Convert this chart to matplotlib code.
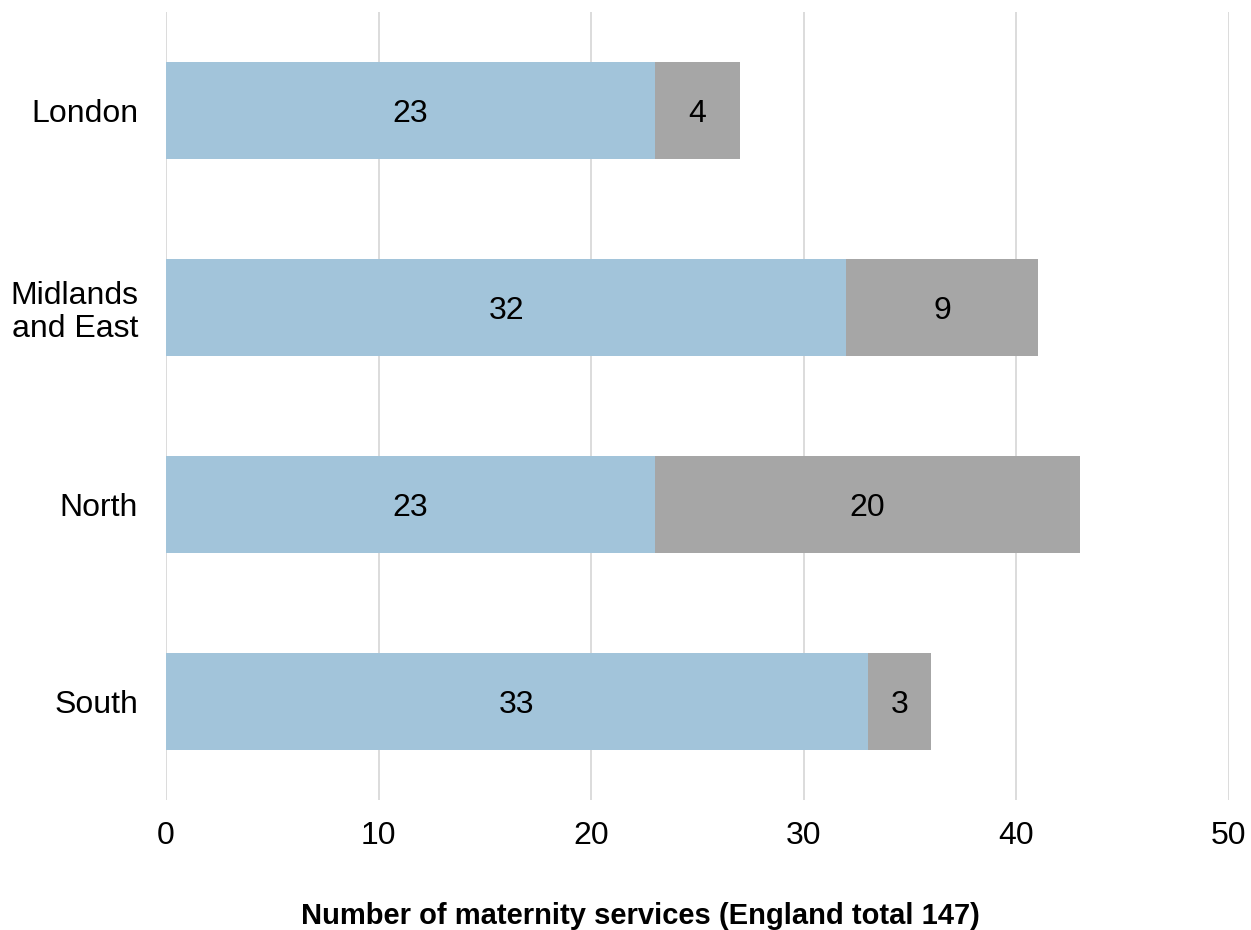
import matplotlib.pyplot as plt

plt.rcParams['font.family'] = ['Liberation Sans', 'DejaVu Sans']

regions = ["London", "Midlands\nand East", "North", "South"]
first_values = [23, 32, 23, 33]
second_values = [4, 9, 20, 3]
x_ticks = [0, 10, 20, 30, 40, 50]

blue = "#A2C4DA"
grey = "#A6A6A6"

fig = plt.figure(figsize=(12.51, 9.30), dpi=100)
ax = fig.add_axes([0.1327, 0.140, 0.8497, 0.847])

pos = list(range(len(regions)))
bars1 = ax.barh(pos, first_values, height=0.49, color=blue, zorder=2)
bars2 = ax.barh(pos, second_values, left=first_values, height=0.49, color=grey, zorder=2)

for bars, lefts in ((bars1, [0] * len(pos)), (bars2, first_values)):
    for b, left in zip(bars, lefts):
        w = b.get_width()
        ax.text(left + w / 2, b.get_y() + b.get_height() / 2, f"{w:g}",
                ha="center", va="center_baseline", fontsize=23, color="black", zorder=3)

ax.set_xlim(0, 50)
ax.set_ylim(3.5, -0.5)
ax.set_xticks(x_ticks)
ax.set_yticks(pos)
ax.set_yticklabels(regions, fontsize=23, linespacing=1.15)
ax.tick_params(axis='x', labelsize=23, length=0, pad=15)
ax.tick_params(axis='y', length=0, pad=20)
for lbl in ax.get_yticklabels():
    lbl.set_horizontalalignment('right')

ax.grid(axis='x', color="#D9D9D9", linewidth=1.3, zorder=0)
ax.set_axisbelow(True)
for s in ax.spines.values():
    s.set_visible(False)

ax.set_xlabel("Number of maternity services (England total 147)", fontsize=21,
              fontweight='bold')
ax.xaxis.set_label_coords(0.446, -0.147, transform=ax.transAxes)
ax.xaxis.label.set_verticalalignment('center')

fig.savefig("out.png", dpi=100)
